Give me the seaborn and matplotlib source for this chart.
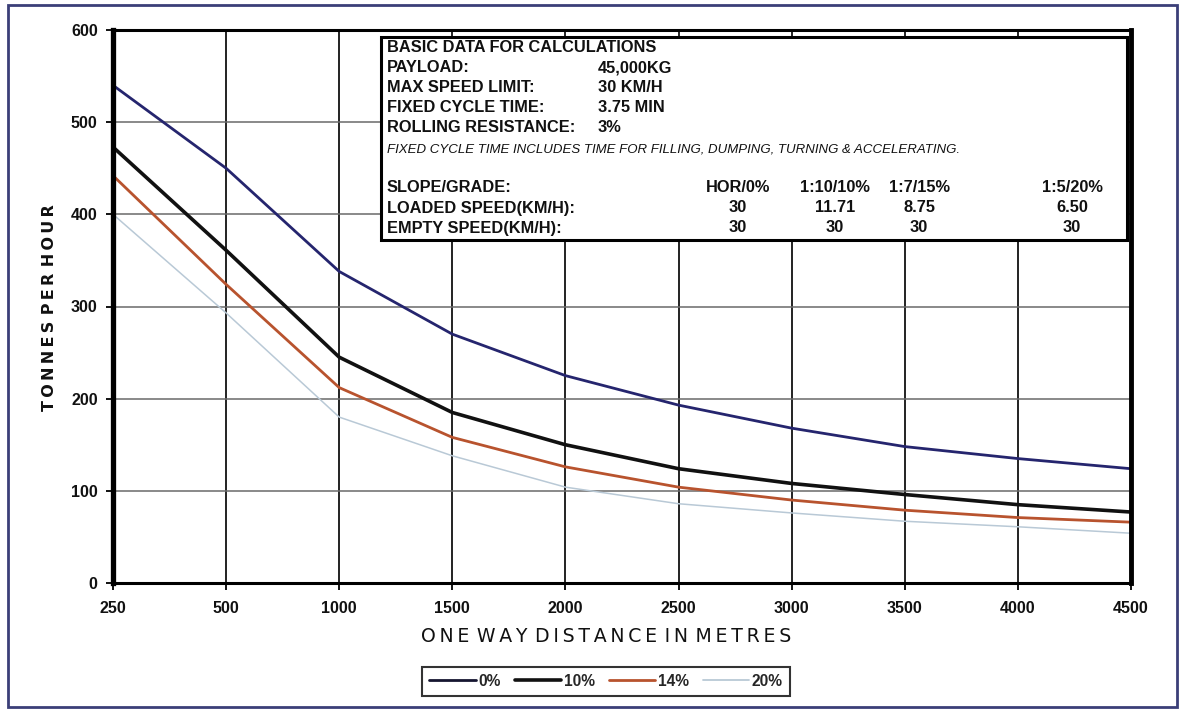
import matplotlib
matplotlib.use("Agg")
import matplotlib.pyplot as plt
from matplotlib.patches import Rectangle
import seaborn as sns
import pandas as pd

# Haul distances (categorical axis) and hourly output per road grade
distances = ["250", "500", "1000", "1500", "2000", "2500", "3000", "3500", "4000", "4500"]
grade_0 = [540, 450, 338, 270, 225, 193, 168, 148, 135, 124]
grade_10 = [473, 361, 245, 185, 150, 124, 108, 96, 85, 77]
grade_14 = [442, 324, 212, 158, 126, 104, 90, 79, 71, 66]
grade_20 = [400, 293, 180, 138, 104, 86, 76, 67, 61, 54]
series_names = ["0%", "10%", "14%", "20%"]
y_ticks = [0, 100, 200, 300, 400, 500, 600]

# Table of assumptions shown in the inset box
basic_rows = [("PAYLOAD:", "45,000KG"),
              ("MAX SPEED LIMIT:", "30 KM/H"),
              ("FIXED CYCLE TIME:", "3.75 MIN"),
              ("ROLLING RESISTANCE:", "3%")]
grade_header = ["HOR/0%", "1:10/10%", "1:7/15%", "1:5/20%"]
loaded_speed = ["30", "11.71", "8.75", "6.50"]
empty_speed = ["30", "30", "30", "30"]

W, H = 1184, 715
sns.set_theme(style="white")
plt.rcParams["font.family"] = ["Liberation Sans", "DejaVu Sans"]

records = []
for name, vals in zip(series_names, [grade_0, grade_10, grade_14, grade_20]):
    for i, v in enumerate(vals):
        records.append({"pos": i, "tph": v, "grade": name})
df = pd.DataFrame(records)

palette = {"0%": "#25256e", "10%": "#111111", "14%": "#b8532e", "20%": "#b9c9d6"}
widths = {"0%": 2.0, "10%": 2.6, "14%": 2.0, "20%": 1.1}

fig = plt.figure(figsize=(W / 100, H / 100), dpi=100)
fig.patch.set_facecolor("white")

def fx(px):
    return px / W

def fy(py):
    return 1 - py / H

ax = fig.add_axes([fx(113), fy(583), fx(1131) - fx(113), fy(30) - fy(583)])
sns.lineplot(data=df, x="pos", y="tph", hue="grade", palette=palette,
             hue_order=series_names, ax=ax, legend=False, sort=False)
for line, name in zip(ax.get_lines(), series_names):
    line.set_linewidth(widths[name])

ax.set_xlim(0, len(distances) - 1)
ax.set_ylim(0, 600)
ax.set_xticks(range(len(distances)))
ax.set_xticklabels(distances)
ax.set_yticks(y_ticks)
ax.set_xlabel("")
ax.set_ylabel("")

# Grid: dark vertical lines at each distance, grey horizontal lines
for i in range(1, len(distances) - 1):
    ax.axvline(i, color="#111111", lw=1.3, zorder=0.5)
for yv in y_ticks[1:-1]:
    ax.axhline(yv, color="#6a6a6a", lw=1.1, zorder=0.5)

for side, lw in [("left", 3.8), ("right", 3.5), ("top", 2.2), ("bottom", 2.2)]:
    ax.spines[side].set_visible(True)
    ax.spines[side].set_color("black")
    ax.spines[side].set_linewidth(lw)

ax.tick_params(axis="both", direction="out", length=5, width=1.3, color="black",
               labelsize=11.5, labelcolor="#111111", pad=6)
ax.tick_params(axis="x", bottom=True, pad=8)
ax.tick_params(axis="y", left=True)
for lbl in ax.get_xticklabels() + ax.get_yticklabels():
    lbl.set_fontweight("bold")

# Axis titles
fig.text(fx(606), fy(637), "O N E  W A Y  D I S T A N C E  I N  M E T R E S".replace(" ", "\u2009"),
         ha="center", va="center", fontsize=13.6, color="#111111",
         family=["DejaVu Sans"])
fig.text(fx(50), fy(308), "T O N N E S  P E R  H O U R".replace(" ", "\u2009"),
         ha="center", va="center", rotation=90, fontsize=11.5, fontweight="bold",
         color="#111111", family=["DejaVu Sans"])

# Inset box with the calculation data
fig.add_artist(Rectangle((fx(381), fy(240)), fx(1127) - fx(381), fy(37) - fy(240),
                         transform=fig.transFigure, facecolor="white",
                         edgecolor="black", lw=2.2, zorder=2))
tkw = dict(fontsize=11.8, fontweight="bold", color="#111111", va="center", zorder=3)
fig.text(fx(387), fy(47), "BASIC DATA FOR CALCULATIONS", **tkw)
for k, (lab, val) in enumerate(basic_rows):
    yy = 68 + 20 * k
    fig.text(fx(387), fy(yy), lab, **tkw)
    fig.text(fx(598), fy(yy), val, **tkw)
fig.text(fx(387), fy(150),
         "FIXED CYCLE TIME INCLUDES TIME FOR FILLING, DUMPING, TURNING & ACCELERATING.",
         fontsize=9.5, fontstyle="italic", color="#111111", va="center", zorder=3)
col_x = [738, 835, 919, 1072]
fig.text(fx(387), fy(188), "SLOPE/GRADE:", **tkw)
fig.text(fx(387), fy(208), "LOADED SPEED(KM/H):", **tkw)
fig.text(fx(387), fy(228), "EMPTY SPEED(KM/H):", **tkw)
for cx, h, ls, es in zip(col_x, grade_header, loaded_speed, empty_speed):
    fig.text(fx(cx), fy(188), h, ha="center", **tkw)
    fig.text(fx(cx), fy(208), ls, ha="center", **tkw)
    fig.text(fx(cx), fy(228), es, ha="center", **tkw)

# Legend below the x-axis title
handles = [plt.Line2D([], [], color=palette[n], lw=widths[n] if n != "20%" else 1.3)
           for n in series_names]
handles[0].set_color("#151530")
leg = fig.legend(handles, series_names, loc="center", bbox_to_anchor=(fx(606), fy(681)),
                 ncol=4, frameon=True, fancybox=False, shadow=False,
                 handlelength=3.0, handletextpad=0.15, columnspacing=0.9,
                 borderpad=0.45, prop={"size": 11.2, "weight": "bold"})
leg.get_frame().set_edgecolor("black")
leg.get_frame().set_linewidth(1.5)

# Outer frame around the whole chart
fig.add_artist(Rectangle((fx(8), fy(707)), fx(1177) - fx(8), fy(5) - fy(707),
                         transform=fig.transFigure, facecolor="none",
                         edgecolor="#3b3f78", lw=2.0, zorder=5))

fig.savefig("out.png", dpi=100)
